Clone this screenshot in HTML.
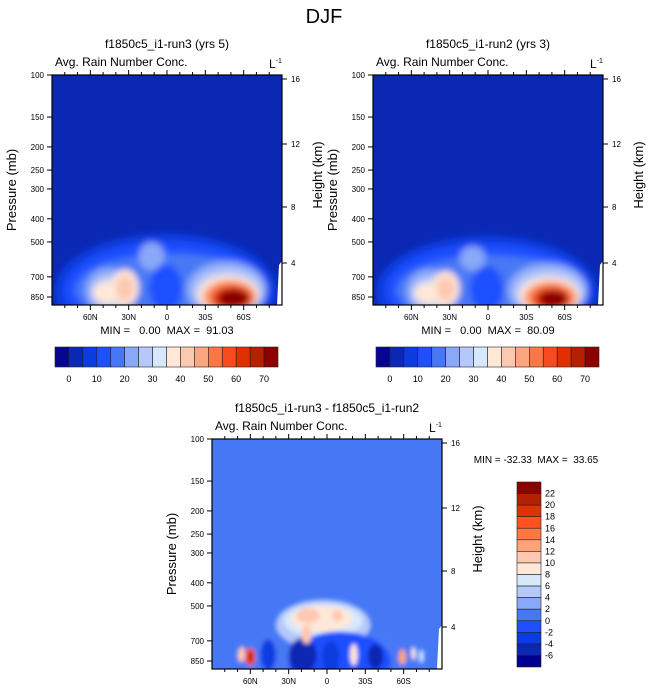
<!DOCTYPE html>
<html><head><meta charset="utf-8">
<style>
body{margin:0;background:#fff;}
svg{display:block;font-family:"Liberation Sans",sans-serif;}
.pre{white-space:pre;}
</style></head>
<body>
<svg id="c" width="648" height="694" viewBox="0 0 648 694">
<defs>
<filter id="bl" x="-30%" y="-30%" width="160%" height="160%"><feGaussianBlur stdDeviation="3.5"/></filter>
<filter id="bl2" x="-50%" y="-50%" width="200%" height="200%"><feGaussianBlur stdDeviation="2"/></filter>
<clipPath id="cp1"><rect x="52" y="75" width="230" height="230"/></clipPath>
<clipPath id="cp2"><rect x="373" y="75" width="230" height="230"/></clipPath>
<clipPath id="cp3"><rect x="212" y="439" width="230" height="230"/></clipPath>
</defs>
<text x="324" y="23" font-size="20" text-anchor="middle">DJF</text>
</svg>
<script>
// ---- data ----
const pLevels = [100,150,200,250,300,400,500,700,850];
const hLevels = [16,12,8,4];
const latTicks = [60,30,0,-30,-60];
const latLabels = ["60N","30N","0","30S","60S"];
const absLevels = [0,5,10,15,20,25,30,35,40,45,50,55,60,65,70];
const absLabels = ["0","10","20","30","40","50","60","70"];
const absColors = ["#06068f","#0a28b4","#0a3ce0","#1e50ff","#4678f5","#8aa8f8","#b4c8fa","#d7e8fc","#ffe8d8","#fcc8b0","#fca680","#fa7846","#f84c1e","#e03000","#b42000","#8c0000"];
const diffLabels = ["22","20","18","16","14","12","10","8","6","4","2","0","-2","-4","-6"];
const diffColors = ["#8c0000","#b42000","#e03200","#ff5020","#ff7844","#ffa478","#ffc8b0","#ffe8d8","#d7e8fc","#b4c8fa","#8aa8f8","#4678f5","#1e50ff","#0a3ce0","#0a28b4","#000090"];
// blobs (ellipse bounding boxes): [lat0, lat1, pTop, pBottom, value]
const run3Blobs = [[88,-86,460,1400,7],[80,-80,500,1250,12],[72,-78,560,1120,17],[64,28,640,1000,22],[-15,-78,600,1050,22],[22,2,500,660,22],[60,24,680,960,27],[-20,-75,640,1000,27],[14,-12,620,980,12],[58,34,730,910,37],[44,22,650,930,37],[-24,-72,690,1000,37],[40,26,690,880,42],[-28,-70,720,1000,47],[-32,-68,740,980,52],[-36,-66,770,960,62],[-40,-64,790,940,72]];
const run2Blobs = [[88,-86,470,1400,7],[80,-80,510,1250,12],[72,-78,570,1120,17],[64,28,650,1000,22],[-15,-78,610,1050,22],[22,2,520,660,22],[60,24,690,960,27],[-20,-75,650,1000,27],[14,-12,630,980,12],[58,34,740,910,37],[44,22,660,930,37],[-24,-72,700,1000,37],[40,26,700,880,42],[-28,-70,730,1000,47],[-32,-66,750,980,52],[-36,-64,780,960,62],[-40,-62,800,940,72]];
const diffBlobs = [[72,-70,560,1300,0],[40,-34,470,760,4],[34,-28,490,680,6],[28,-20,500,640,8],[24,6,510,590,10],[-4,-12,520,580,10],[30,-50,640,1150,-2],[30,8,680,960,-6],[4,-10,700,960,-4],[-18,-24,720,890,8],[-32,-44,720,920,-6],[64,56,750,890,16],[62,58,770,870,20],[70,64,740,860,10],[-56,-62,760,880,12],[-66,-70,740,840,8],[-72,-76,760,870,6],[52,40,690,930,-4],[20,12,600,720,10]];
const mm = [["0.00","91.03"],["0.00","80.09"]];

const svg = document.getElementById('c');
const NS = "http://www.w3.org/2000/svg";
function mk(tag, attrs, parent){const e=document.createElementNS(NS,tag);for(const k in attrs)e.setAttribute(k,attrs[k]);(parent||svg).appendChild(e);return e;}
function txt(x,y,s,size,anchor,parent){const e=mk('text',{x:x,y:y,'font-size':size,'text-anchor':anchor||'start'},parent);e.textContent=s;return e;}

function panel(x0,y0,title,blobs,bg,colorFn,cp,name,filt){
  const W=230,H=230;
  const xs = lat => x0 + (90-lat)/180*W;
  const ys = p => y0 + Math.log(p/100)/Math.log(8.5)*222;
  const g = mk('g',{});
  
  
  let t=txt(x0+115,y0-27,title,12,'middle',g);
  
  t=txt(x0+3,y0-9,"Avg. Rain Number Conc.",12,'start',g);
  
  t=txt(x0+217,y0-7,"L",12,'start',g);
  mk('tspan',{dy:-5,'font-size':7},t).textContent="-1";
  
  const fg = mk('g',{'clip-path':`url(#${cp})`},g);
  
  
  mk('rect',{x:x0,y:y0,width:W,height:H,fill:bg},fg);
  const bg2 = mk('g',{filter:`url(#${filt})`},fg);
  blobs.forEach(b=>{
    const xa=xs(b[0]),xb=xs(b[1]),ya=ys(b[2]),yb=ys(b[3]);
    const r=mk('ellipse',{cx:(xa+xb)/2,cy:(ya+yb)/2,rx:(xb-xa)/2,ry:(yb-ya)/2,fill:colorFn(b[4])},bg2);
    
    
  });
  mk('polygon',{points:`${x0+W-5},${y0+H} ${x0+W-3},${y0+H-40} ${x0+W},${y0+H-44} ${x0+W},${y0+H}`,fill:'#fff'},fg);
  mk('rect',{x:x0,y:y0,width:W,height:H,fill:'none',stroke:'#000','stroke-width':1.2},g);
  pLevels.forEach(p=>{const y=ys(p);mk('line',{x1:x0-5,y1:y,x2:x0,y2:y,stroke:'#000'},g);
    const l=txt(x0-8,y+3,String(p),8,'end',g);});
  const hs=[y0+4,y0+69,y0+132,y0+188];
  hLevels.forEach((h,i)=>{mk('line',{x1:x0+W,y1:hs[i],x2:x0+W+5,y2:hs[i],stroke:'#000'},g);
    const l=txt(x0+W+9,hs[i]+3,String(h),8,'start',g);});
  for(let lat=80;lat>=-80;lat-=10){const x=xs(lat);const major=lat%30===0;
    mk('line',{x1:x,y1:y0+H,x2:x,y2:y0+H+(major?5:3),stroke:'#000'},g);
    mk('line',{x1:x,y1:y0,x2:x,y2:y0-(major?5:3),stroke:'#000'},g);}
  latTicks.forEach((lat,i)=>{const l=txt(xs(lat),y0+H+15,latLabels[i],8,'middle',g);});
  t=mk('text',{transform:`translate(${x0-36},${y0+115}) rotate(-90)`,'font-size':13,'text-anchor':'middle'},g);t.textContent="Pressure (mb)";
  
  t=mk('text',{transform:`translate(${x0+W+40},${y0+100}) rotate(-90)`,'font-size':13,'text-anchor':'middle'},g);t.textContent="Height (km)";
  
}
const absColor = v => {let i=0;while(i<absLevels.length&&v>=absLevels[i])i++;return absColors[i];};
const diffLevelsAsc = [-6,-4,-2,0,2,4,6,8,10,12,14,16,18,20,22];
const diffColor = v => {let i=0;while(i<diffLevelsAsc.length&&v>=diffLevelsAsc[i])i++;return diffColors[15-i];};

panel(52,75,"f1850c5_i1-run3 (yrs 5)",run3Blobs,'#0a28b4',absColor,'cp1','panel-run3','bl');
panel(373,75,"f1850c5_i1-run2 (yrs 3)",run2Blobs,'#0a28b4',absColor,'cp2','panel-run2','bl');
panel(212,439,"f1850c5_i1-run3 - f1850c5_i1-run2",diffBlobs,'#4678f5',diffColor,'cp3','panel-difference','bl2');

// min/max
[[167,0],[488,1]].forEach(([cx,i])=>{const t=txt(cx,334,`MIN =   ${mm[i][0]}  MAX =  ${mm[i][1]}`,11,'middle');t.setAttribute('class','pre');
  });
const dt=txt(536,463,"MIN = -32.33  MAX =  33.65",10,'middle');dt.setAttribute('class','pre');


// horizontal colorbars
function hbar(x0,name){const w=223/16;const g=mk('g',{});
  
  
  absColors.forEach((c,i)=>mk('rect',{x:x0+i*w,y:347,width:w,height:20,fill:c,stroke:'#222','stroke-width':0.6},g));
  absLabels.forEach((l,i)=>{const t=txt(x0+(i*2+1)*w,382,l,9,'middle',g);});}
hbar(55,'colorbar-run3');hbar(376,'colorbar-run2');
// vertical colorbar
(function(){const g=mk('g',{});
  
  
  const h=185/16;
  diffColors.forEach((c,i)=>mk('rect',{x:517,y:482+i*h,width:24,height:h,fill:c,stroke:'#222','stroke-width':0.6},g));
  diffLabels.forEach((l,i)=>{const t=txt(545,482+(i+1)*h+3,l,9,'start',g);});
})();
</script>
</body></html>
